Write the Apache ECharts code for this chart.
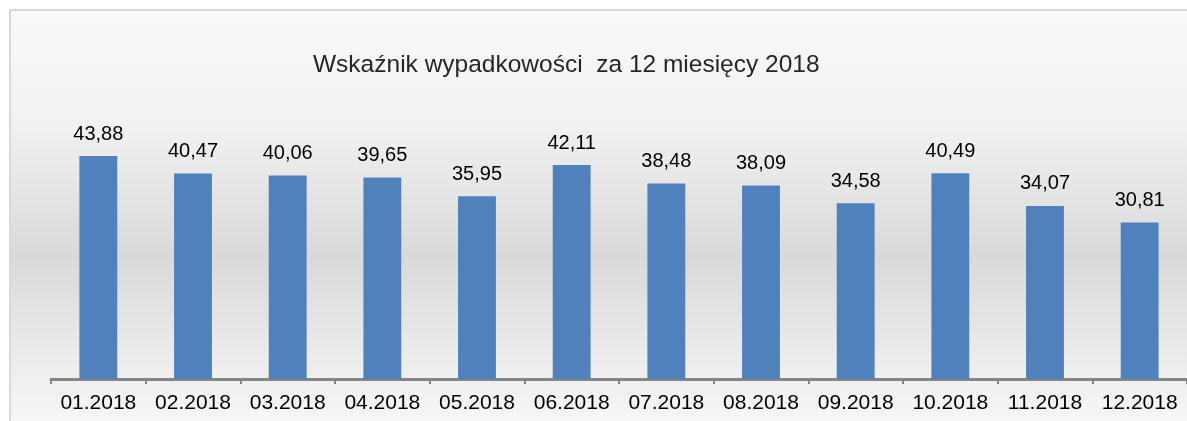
<!DOCTYPE html>
<html>
<head>
<meta charset="utf-8">
<style>
  html, body { margin: 0; padding: 0; background: #ffffff; overflow: hidden; }
  #chart { width: 1187px; height: 421px; overflow: hidden; }
</style>
<script src="https://cdn.jsdelivr.net/npm/echarts@6/dist/echarts.min.js"></script>
</head>
<body>
<div id="chart"></div>
<script>
// Monthly accident rate indicator, 2018
const titleText = 'Wskaźnik wypadkowości  za 12 miesięcy 2018';
const months = ['01.2018', '02.2018', '03.2018', '04.2018', '05.2018', '06.2018',
                '07.2018', '08.2018', '09.2018', '10.2018', '11.2018', '12.2018'];
const rates = [43.88, 40.47, 40.06, 39.65, 35.95, 42.11, 38.48, 38.09, 34.58, 40.49, 34.07, 30.81];

const chart = echarts.init(document.getElementById('chart'), null, { renderer: 'canvas' });

const fmt = v => v.toFixed(2).replace('.', ',');

chart.setOption({
  animation: false,
  backgroundColor: '#ffffff',
  graphic: [
    {
      // chart area background with soft vertical gradient
      type: 'rect',
      z: -10,
      silent: true,
      shape: { x: 10, y: 10, width: 1190, height: 420 },
      style: {
        fill: new echarts.graphic.LinearGradient(0, 0, 0, 420, [
          { offset: 0, color: '#fafafa' },
          { offset: 0.3, color: '#f1f1f1' },
          { offset: 0.61, color: '#d9d9d9' },
          { offset: 0.88, color: '#eeeeee' },
          { offset: 1, color: '#f6f6f6' }
        ], true)
      }
    },
    {
      // top and left frame edges
      type: 'polyline',
      z: -9,
      silent: true,
      shape: { points: [[10, 430], [10, 10], [1200, 10]] },
      style: { stroke: '#d9d9d9', lineWidth: 2, fill: null }
    }
  ],
  title: {
    text: titleText,
    left: 308,
    top: 48,
    textStyle: {
      fontFamily: 'Liberation Sans, Arial, sans-serif',
      fontSize: 24.5,
      fontWeight: 'normal',
      color: '#262626'
    }
  },
  grid: { left: 51, right: -4, top: 125, bottom: 42, containLabel: false },
  xAxis: {
    type: 'category',
    data: months,
    axisLine: { lineStyle: { color: '#868686', width: 3 } },
    axisTick: { show: true, length: 5, interval: 0, lineStyle: { color: '#868686', width: 2 } },
    axisLabel: {
      interval: 0,
      hideOverlap: false,
      margin: 14,
      fontFamily: 'Liberation Sans, Arial, sans-serif',
      fontSize: 21,
      color: '#000000'
    }
  },
  yAxis: {
    type: 'value',
    min: 0,
    max: 50,
    show: false,
    splitLine: { show: false }
  },
  series: [{
    type: 'bar',
    data: rates,
    barWidth: '40%',
    itemStyle: { color: '#4f81bd' },
    label: {
      show: true,
      position: 'top',
      distance: 12,
      formatter: p => fmt(p.value),
      fontFamily: 'Liberation Sans, Arial, sans-serif',
      fontSize: 20,
      color: '#000000'
    }
  }]
});
</script>
</body>
</html>
